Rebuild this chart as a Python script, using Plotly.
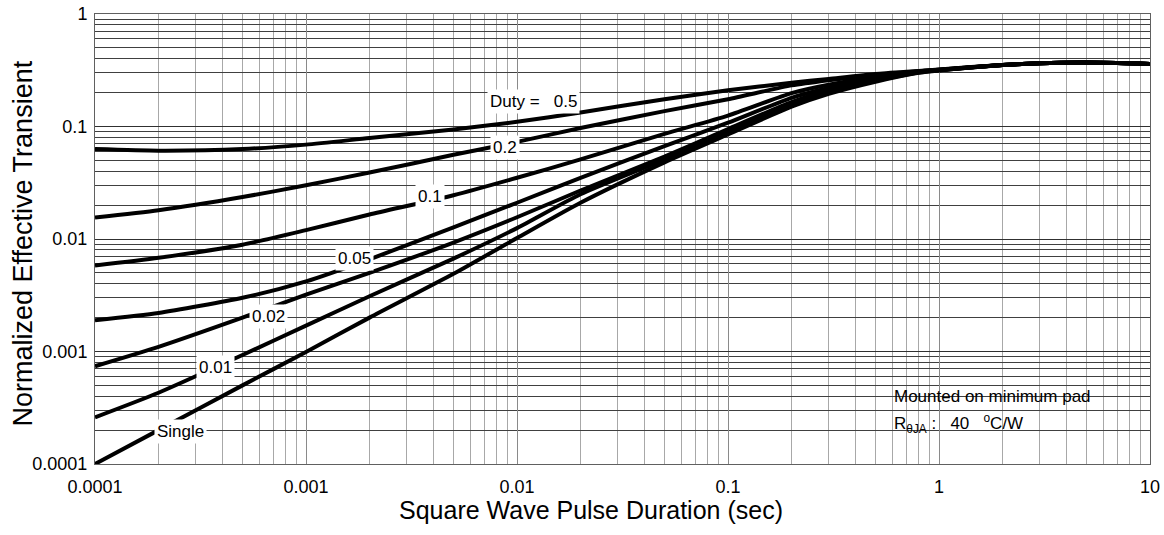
import plotly.graph_objects as go

# Pulse duration (sec)
pulse = [1e-4, 2e-4, 5e-4, 1e-3, 2e-3, 5e-3, 1e-2, 2e-2, 5e-2, 0.1, 0.2, 0.3, 0.5, 0.8, 1, 2, 3, 5, 10]

duty_05 = [0.063, 0.061, 0.063, 0.069, 0.079, 0.094, 0.110, 0.133, 0.175, 0.210, 0.245, 0.265, 0.293, 0.312, 0.322, 0.352, 0.365, 0.370, 0.360]
duty_02 = [0.0155, 0.018, 0.0236, 0.030, 0.039, 0.056, 0.073, 0.097, 0.137, 0.175, 0.232, 0.258, 0.288, 0.310, 0.320, 0.352, 0.365, 0.370, 0.360]
duty_01 = [0.0058, 0.0068, 0.0089, 0.0120, 0.0165, 0.0245, 0.035, 0.051, 0.086, 0.125, 0.198, 0.235, 0.275, 0.308, 0.319, 0.352, 0.365, 0.370, 0.360]
duty_005 = [0.0019, 0.0022, 0.0030, 0.0042, 0.0066, 0.0127, 0.021, 0.035, 0.067, 0.108, 0.180, 0.220, 0.265, 0.306, 0.318, 0.352, 0.365, 0.370, 0.360]
duty_002 = [0.00074, 0.0011, 0.0020, 0.0032, 0.0050, 0.0093, 0.0156, 0.027, 0.054, 0.095, 0.165, 0.210, 0.260, 0.304, 0.317, 0.352, 0.365, 0.370, 0.360]
duty_001 = [0.00026, 0.00043, 0.00093, 0.0017, 0.0031, 0.0067, 0.0125, 0.025, 0.051, 0.090, 0.160, 0.205, 0.255, 0.302, 0.316, 0.352, 0.365, 0.370, 0.360]
single = [0.0001, 0.0002, 0.0005, 0.00099, 0.0020, 0.0049, 0.0102, 0.021, 0.048, 0.085, 0.150, 0.195, 0.250, 0.300, 0.315, 0.352, 0.365, 0.370, 0.360]

series = [duty_05, duty_02, duty_01, duty_005, duty_002, duty_001, single]
series_names = ["0.5", "0.2", "0.1", "0.05", "0.02", "0.01", "Single"]

x_ticks = [1e-4, 1e-3, 1e-2, 0.1, 1, 10]
x_tick_labels = ["0.0001", "0.001", "0.01", "0.1", "1", "10"]
y_ticks = [1e-4, 1e-3, 1e-2, 0.1, 1]
y_tick_labels = ["0.0001", "0.001", "0.01", "0.1", "1"]

# curve labels: text and position (log10 units)
label_texts = ["Duty =\u00a0\u00a0 0.5", "0.2", "0.1", "0.05", "0.02", "0.01", "Single"]
label_pos = [(-1.924, -0.782), (-2.057, -1.191), (-2.412, -1.618), (-2.768, -2.169),
             (-3.180, -2.693), (-3.431, -3.138), (-3.595, -3.707)]

FONT = "Liberation Sans, Arial, sans-serif"

fig = go.Figure()
for vals, name in zip(series, series_names):
    fig.add_trace(go.Scatter(x=pulse, y=vals, mode="lines", name=name,
                             line=dict(color="black", width=4, shape="spline", smoothing=0.6),
                             showlegend=False, hoverinfo="skip"))

annotations = []
for txt, (ax_, ay_) in zip(label_texts, label_pos):
    annotations.append(dict(x=ax_, y=ay_, xref="x", yref="y", text=txt, showarrow=False,
                            font=dict(family=FONT, size=17, color="black"),
                            bgcolor="white", borderpad=2))

# info box
annotations.append(dict(x=-0.223, y=-3.396, xref="x", yref="y", xanchor="left", text="Mounted on minimum pad",
                        showarrow=False, font=dict(family=FONT, size=17, color="black")))
annotations.append(dict(x=-0.223, y=-3.644, xref="x", yref="y", xanchor="left",
                        text="R<sub>\u03b8JA</sub>\u00a0:\u00a0\u00a0 40 \u00a0 <sup>o</sup>C/W",
                        showarrow=False, font=dict(family=FONT, size=17, color="black")))

# axis titles
annotations.append(dict(x=0.470, y=0, xref="paper", yref="paper", yshift=-46, yanchor="middle",
                        text="Square Wave Pulse Duration (sec)", showarrow=False,
                        font=dict(family=FONT, size=25, color="black")))
annotations.append(dict(x=0, y=0.49, xref="paper", yref="paper", xshift=-73, xanchor="center",
                        yanchor="middle", textangle=-90,
                        text="Normalized Effective Transient", showarrow=False,
                        font=dict(family=FONT, size=27, color="black")))

fig.update_layout(
    width=1164, height=535,
    margin=dict(l=95, r=14, t=14, b=71),
    paper_bgcolor="white", plot_bgcolor="white",
    font=dict(family=FONT, size=16, color="black"),
    annotations=annotations,
    shapes=[dict(type="rect", xref="x", yref="y", x0=-0.374, x1=0.706, y0=-3.76, y1=-3.253,
                 fillcolor="white", line=dict(width=0), layer="above")],
    xaxis=dict(type="log", range=[-4, 1], tickvals=x_ticks, ticktext=x_tick_labels,
               automargin=False, ticklabeloverflow="allow",
               showgrid=True, gridcolor="#8a8a8a", gridwidth=1,
               minor=dict(dtick="D1", showgrid=True, gridcolor="#a8a8a8", gridwidth=1),
               showline=True, linecolor="#606060", linewidth=1, mirror=True,
               ticks="", ticklen=0, tickfont=dict(size=18), ticklabelstandoff=6,
               zeroline=False),
    yaxis=dict(type="log", range=[-4, 0], tickvals=y_ticks, ticktext=y_tick_labels,
               automargin=False, ticklabeloverflow="allow",
               showgrid=True, gridcolor="#303030", gridwidth=1,
               minor=dict(dtick="D1", showgrid=True, gridcolor="#404040", gridwidth=1),
               showline=True, linecolor="#606060", linewidth=1, mirror=True,
               ticks="", ticklen=0, tickfont=dict(size=18), ticklabelstandoff=3,
               zeroline=False),
)

# remove the default 8px page margin so the 1164x535 figure fills the window exactly
fig.write_html("out.html", config={"displayModeBar": False},
               post_script="document.body.style.margin='0';")
